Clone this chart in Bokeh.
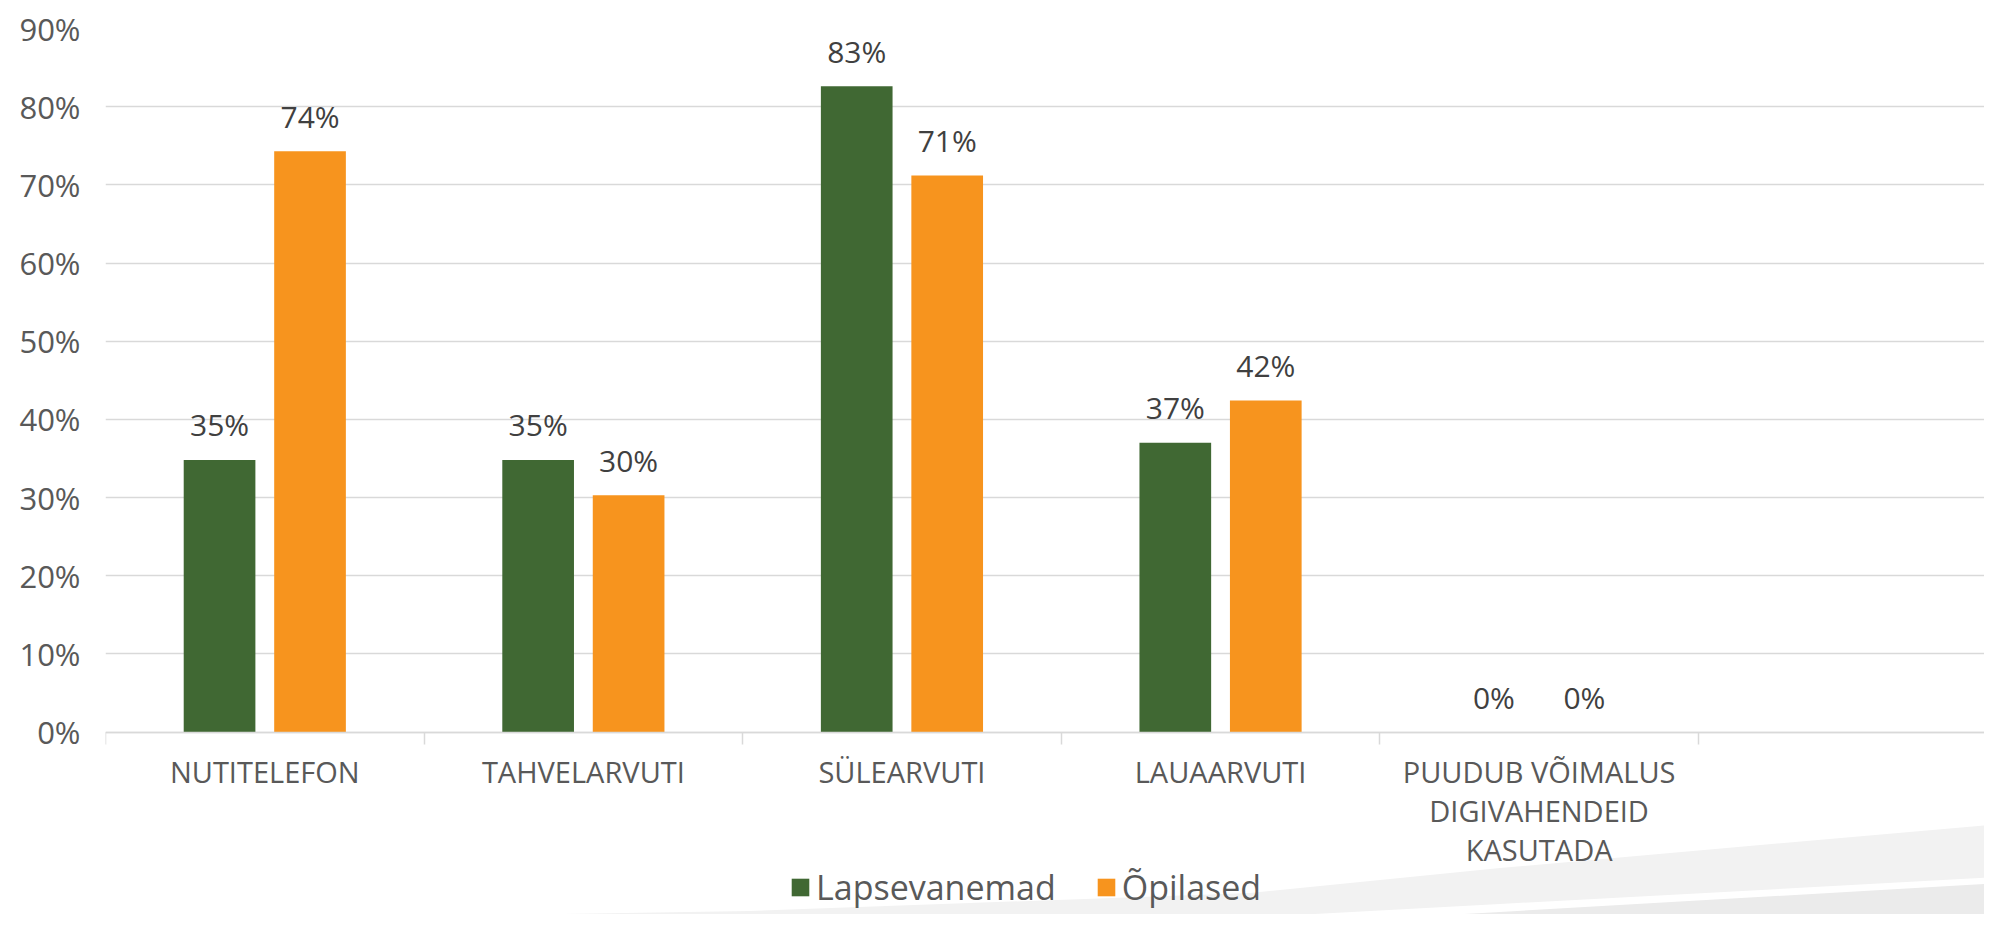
from bokeh.plotting import figure
from bokeh.models import ColumnDataSource, Range1d, FixedTicker, PrintfTickFormatter
from bokeh.embed import file_html
from bokeh.resources import INLINE
from bokeh.core.properties import value

# ---------------- data ----------------
categories = [
    "NUTITELEFON",
    "TAHVELARVUTI",
    "SÜLEARVUTI",
    "LAUAARVUTI",
    "PUUDUB VÕIMALUS\nDIGIVAHENDEID\nKASUTADA",
]
series_names = ["Lapsevanemad", "Õpilased"]
lapsevanemad = [34.8, 34.8, 82.6, 37.0, 0.0]
opilased = [74.3, 30.3, 71.2, 42.4, 0.0]
y_ticks = [0, 10, 20, 30, 40, 50, 60, 70, 80, 90]

# ---------------- style / layout ----------------
colors = ["#406833", "#F7941E"]
FONT = "Open Sans"
GRID = "#d9d9d9"
bar_width = 0.225
offsets = [-0.142, 0.142]
W, H = 1984, 914
FRAME_LEFT, FRAME_TOP, ZERO_PX = 105, 28, 731.5
ppu = (ZERO_PX - FRAME_TOP) / y_ticks[-1]          # pixels per percent
y_bottom = -(H - ZERO_PX) / ppu                      # frame runs to the canvas bottom

p = figure(
    width=W, height=H,
    x_range=Range1d(0, 5.898), y_range=Range1d(y_bottom, y_ticks[-1]),
    output_backend="svg", toolbar_location=None,
    min_border_left=FRAME_LEFT, min_border_right=0, min_border_top=FRAME_TOP, min_border_bottom=0,
)
p.outline_line_color = None
p.background_fill_color = None
p.border_fill_color = None

# slide-template background swoosh (decoration only, CSS background of the plot element)
deco = [
    ("f2f2f2", "0,920 500,915 750,911 1250,893 1500,868 2000,824 2000,935 0,935"),
    ("ffffff", "1000,931 1500,904 2000,877 2000,935 1000,935"),
    ("ebebeb", "1180,930 1500,912 2000,883 2000,935 1180,935"),
]
svg = "<svg xmlns='http://www.w3.org/2000/svg' width='1984' height='914'>" + "".join(
    f"<polygon points='{pts}' fill='%23{c}'/>" for c, pts in deco) + "</svg>"
p.styles = {
    "background-image": f'url("data:image/svg+xml;utf8,{svg}")',
    "background-repeat": "no-repeat",
    "background-color": "white",
}

centers = [i + 0.5 for i in range(len(categories))]
bounds = list(range(len(categories) + 1))

for name, vals, col, off in zip(series_names, [lapsevanemad, opilased], colors, offsets):
    src = ColumnDataSource(dict(
        x=[c + off for c in centers],
        top=vals,
        label=[f"{round(v)}%" for v in vals],
    ))
    p.vbar(x="x", top="top", bottom=0, width=bar_width, source=src, fill_color=col,
           line_color=None, legend_label=name)
    p.text(x="x", y="top", text="label", source=src, text_align="center",
           text_baseline="alphabetic", y_offset=-35,
           text_font=value(FONT), text_font_size="30px", text_color="#404040")

# y axis
p.yaxis.ticker = FixedTicker(ticks=y_ticks)
p.yaxis.formatter = PrintfTickFormatter(format="%d%%")
p.yaxis.axis_line_color = None
p.yaxis.major_tick_line_color = None
p.yaxis.minor_tick_line_color = None
p.yaxis.major_tick_out = 0
p.yaxis.major_tick_in = 0
p.yaxis.major_label_standoff = 25
p.yaxis.major_label_text_font = FONT
p.yaxis.major_label_text_font_size = "31px"
p.yaxis.major_label_text_color = "#595959"

p.ygrid.grid_line_color = GRID
p.ygrid.grid_line_width = 1.5
p.xgrid.visible = False

# x axis, pinned at 0%
p.xaxis.fixed_location = 0
p.xaxis.ticker = FixedTicker(ticks=centers, minor_ticks=bounds)
p.xaxis.major_label_overrides = {c: lab for c, lab in zip(centers, categories)}
p.xaxis.major_tick_out = 0
p.xaxis.major_tick_in = 0
p.xaxis.major_tick_line_color = None
p.xaxis.minor_tick_out = 12
p.xaxis.minor_tick_in = 0
p.xaxis.minor_tick_line_color = GRID
p.xaxis.minor_tick_line_width = 1.5
p.xaxis.axis_line_color = GRID
p.xaxis.axis_line_width = 1.5
p.xaxis.major_label_standoff = 8
p.xaxis.major_label_text_font = FONT
p.xaxis.major_label_text_font_size = "29px"
p.xaxis.major_label_text_color = "#595959"
p.xaxis.major_label_text_line_height = 1.0

# legend (in the frame, which reaches the canvas bottom)
lg = p.legend[0]
lg.location = (684, 4)
lg.orientation = "horizontal"
lg.glyph_width = 22
lg.glyph_height = 22
lg.label_standoff = 5
lg.spacing = 39
lg.padding = 0
lg.margin = 0
lg.border_line_color = None
lg.background_fill_alpha = 0
lg.label_text_font = FONT
lg.label_text_font_size = "34px"
lg.label_text_color = "#595959"

open("out.html", "w").write(file_html(p, INLINE))
